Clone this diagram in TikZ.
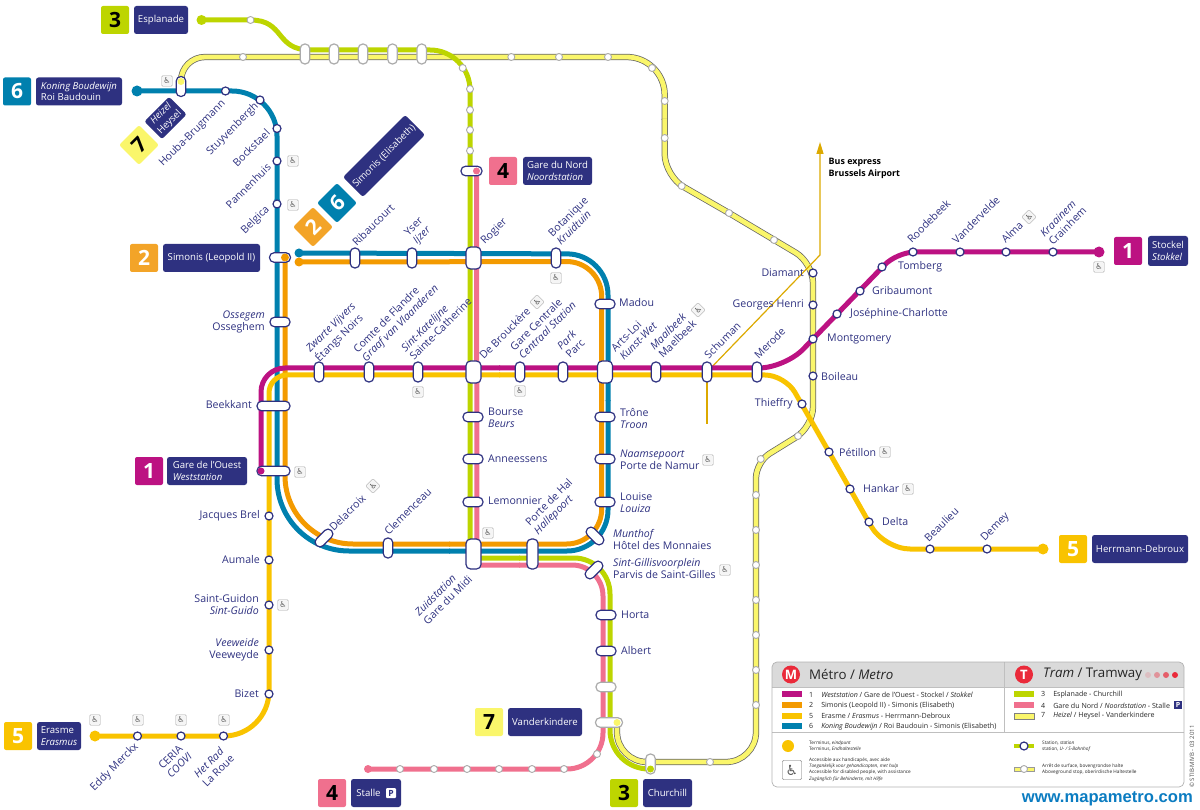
\documentclass[tikz,border=0pt]{standalone}
\usepackage{fontspec}
\setmainfont{Open Sans}
\newfontfamily\wcfont{DejaVu Sans}
\newfontfamily\urlfont{Liberation Sans}
\usetikzlibrary{arrows.meta,backgrounds}

\definecolor{navy}{HTML}{2E3180}
\definecolor{lineA}{HTML}{BC1282}
\definecolor{lineB}{HTML}{F39A00}
\definecolor{lineE}{HTML}{F9C300}
\definecolor{lineF}{HTML}{0080AE}
\definecolor{lineC}{HTML}{BDD500}
\definecolor{lineD}{HTML}{F0708E}
\definecolor{lineG}{HTML}{FAF66B}
\definecolor{boxB}{HTML}{F3A428}
\definecolor{capgray}{HTML}{ABABAB}
\definecolor{busline}{HTML}{DCA900}
\definecolor{headgray}{HTML}{DADADA}
\definecolor{redmark}{HTML}{EA2A3A}
\definecolor{urlblue}{HTML}{0B7CC1}

\begin{document}
\begin{tikzpicture}[
    x=1pt, y=-1pt,
    metro/.style={line width=5pt, draw=#1},
    tramline/.style={draw=black!60, double=lineG, double distance=4.8pt, line width=0.75pt},
    stop/.style={circle, draw=navy, fill=white, line width=1.2pt, minimum size=8pt, inner sep=0pt},
    tstop/.style={circle, draw=capgray, fill=white, line width=0.9pt, minimum size=7pt, inner sep=0pt},
    term/.style={circle, fill=#1, minimum size=11pt, inner sep=0pt},
    dot/.style={circle, fill=#1, minimum size=7pt, inner sep=0pt},
    capsule/.style={rectangle, rounded corners=4.5pt, draw=navy, fill=white, line width=1.2pt, inner sep=0pt},
    capv/.style={capsule, minimum width=9.5pt, minimum height=20pt},
    caph/.style={capsule, minimum width=20pt, minimum height=9.5pt},
    capbig/.style={capsule, minimum width=15pt, minimum height=22pt},
    graycap/.style={draw=capgray},
    lbl/.style={font=\fontsize{10.6}{12}\selectfont, text=navy, inner sep=0pt, align=left},
    lup/.style={lbl, rotate=45, anchor=west},
    ldown/.style={lbl, rotate=45, anchor=east, align=right},
    lleft/.style={lbl, anchor=east, align=right},
    lright/.style={lbl, anchor=west},
    num/.style={fill=#1, text=white, rounded corners=2pt, minimum size=28pt, inner sep=0pt, font=\fontsize{21}{21}\selectfont\bfseries},
    numk/.style={num=#1, text=black},
    namebox/.style={fill=navy, text=white, rounded corners=2.5pt, minimum height=28pt, inner sep=0pt, align=left, font=\fontsize{9.6}{11.8}\selectfont},
    wheel/.style={draw=black!35, fill=black!4, rounded corners=1pt, minimum size=10.5pt, inner sep=0pt, text=black!65, font=\wcfont\fontsize{8}{8}\selectfont},
    swatch/.style={rectangle, draw=none, fill=#1, minimum width=20pt, minimum height=5.5pt, inner sep=0pt},
    legrow/.style={anchor=west, inner sep=0pt, text=black!85, font=\fontsize{7.1}{8}\selectfont},
    legtiny/.style={anchor=west, inner sep=0pt, align=left, text=black!85, font=\fontsize{4.7}{6.2}\selectfont},
    leghead/.style={anchor=west, inner sep=0pt, text=black!85, font=\fontsize{13.3}{14}\selectfont},
    headmark/.style={circle, fill=redmark, text=white, minimum size=18pt, inner sep=0pt, font=\fontsize{13}{13}\selectfont\bfseries},
    fadedot/.style={circle, fill=redmark, fill opacity=#1, minimum size=6pt, inner sep=0pt}
]
\useasboundingbox (0,0) rectangle (1200,810);

% Line 6 stations
\node[term=lineF] (Koning) at (137,91) {};
\node[stop] (Houba) at (225.5,91) {};
\node[stop] (Stuyven) at (260,100) {};
\node[stop] (Bockstael) at (277,128.5) {};
\node[stop] (Pannenhuis) at (277,161) {};
\node[stop] (Belgica) at (277,204) {};
\node[term=lineF, minimum size=9pt] (SimonisF) at (299,253) {};
\node[term=lineB, minimum size=9pt] (SimonisB) at (299,262) {};

% Line 2/6 north side
\node[capv] (Ribaucourt) at (355,258) {};
\node[capv] (Yser) at (412,258) {};
\node[capbig] (Rogier) at (473.5,258) {};
\node[capv] (Botanique) at (556,258) {};
\node[caph] (Madou) at (605,304) {};
\node[caph, minimum width=21pt] (SimonisC) at (280,257.5) {};

% Line 1/5 trunk
\node[caph] (Ossegem) at (280,322) {};
\node[capv] (Zwarte) at (319,372) {};
\node[capv] (Comte) at (369,372) {};
\node[capv] (Katelijne) at (418,372) {};
\node[capbig] (Brouckere) at (473.5,372) {};
\node[capv] (Centrale) at (520,372) {};
\node[capv] (Parc) at (563,372) {};
\node[capbig] (ArtsLoi) at (605,372) {};
\node[capv] (Maalbeek) at (656,372) {};
\node[capv] (Schuman) at (707,372) {};
\node[capv] (Merode) at (757,372) {};
\node[capsule, minimum width=33pt, minimum height=9.5pt] (Beekkant) at (273.5,406) {};
\node[capsule, minimum width=33pt, minimum height=9.5pt] (Ouest) at (273.5,471) {};
\node[dot=lineA] (OuestD) at (261,471) {};

% Line 1 east
\node[stop] (Montgomery) at (813,339) {};
\node[stop] (Josephine) at (837,314) {};
\node[stop] (Gribaumont) at (860,291) {};
\node[stop] (Tomberg) at (882,267) {};
\node[stop] (Roodebeek) at (913,252) {};
\node[stop] (Vandervelde) at (960,252) {};
\node[stop] (Alma) at (1006,252) {};
\node[stop] (Kraainem) at (1053,252) {};
\node[term=lineA] (Stockel) at (1099,252) {};
\node[stop] (Diamant) at (813,273) {};
\node[stop] (Georges) at (813,305) {};
\node[stop] (Boileau) at (813,376) {};

% Line 5 east
\node[stop] (Thieffry) at (802,404) {};
\node[stop] (Petillon) at (829,452) {};
\node[stop] (Hankar) at (850,489) {};
\node[stop] (Delta) at (869,522) {};
\node[stop] (Beaulieu) at (930,549) {};
\node[stop] (Demey) at (987,549) {};
\node[term=lineE] (Herrmann) at (1043,549) {};

% Line 5 south
\node[stop] (Brel) at (269,516) {};
\node[stop] (Aumale) at (269,560) {};
\node[stop] (Guidon) at (269,605) {};
\node[stop] (Veeweide) at (269,650) {};
\node[stop] (Bizet) at (269,694) {};
\node[stop] (HetRad) at (223.5,736) {};
\node[stop] (Ceria) at (181,736) {};
\node[stop] (Merckx) at (137.5,736) {};
\node[term=lineE] (Erasme) at (95,736) {};

% Line 2/6 south side
\node[capsule, rotate=45, minimum width=21pt, minimum height=9.5pt] (Delacroix) at (324,538) {};
\node[capv] (Clemenceau) at (388,548) {};
\node[capsule, minimum width=15pt, minimum height=30pt] (Midi) at (473.5,554) {};
\node[capsule, minimum width=11pt, minimum height=30pt] (Hal) at (532.5,554) {};
\node[capsule, rotate=-45, minimum width=21pt, minimum height=9.5pt] (Munthof) at (595,536) {};
\node[capsule, rotate=45, minimum width=21pt, minimum height=9.5pt] (Gilles) at (594,570) {};

% Line 3/4 axis
\node[caph] (Bourse) at (473,417) {};
\node[caph] (Anneessens) at (473,459) {};
\node[caph] (Lemonnier) at (473,502) {};
\node[caph] (Trone) at (605,417) {};
\node[caph] (Naamse) at (605,459) {};
\node[caph] (Louise) at (605,502) {};
\node[caph] (Horta) at (606,615) {};
\node[caph] (Albert) at (606,651) {};
\node[caph, graycap] (AlbertS) at (606,687) {};

% Line 3 stops
\node[term=lineC, minimum size=10pt] (Esplanade) at (201.5,20) {};
\node[tstop] (Esp2) at (250.5,20) {};
\node[tstop] (Nord1) at (462.7,68) {};
\node[tstop] (Nord2) at (470,89) {};
\node[tstop] (Nord3) at (470,110) {};
\node[tstop] (Nord4) at (470,130) {};
\node[tstop] (Nord5) at (470,150.7) {};
\node[caph, minimum width=21pt] (Nord) at (471.5,171) {};
\node[dot=lineD] (NordD) at (476.5,171) {};

% Line 4 stops
\node[term=lineD, minimum size=8pt] (Stalle) at (368,769) {};
\node[tstop] (St1) at (400,769) {};
\node[tstop] (St2) at (434,769) {};
\node[tstop] (St3) at (467,769) {};
\node[tstop] (St4) at (499,769) {};
\node[tstop] (St5) at (532,769) {};
\node[tstop] (St6) at (564,769) {};
\node[tstop] (St7) at (597,754) {};

% Line 7 stops
\node[capv] (Heizel) at (181,86.5) {};
\node[dot=lineG] (HeizelD) at (181,81.5) {};
\node[tstop] (H1) at (243,57) {};
\node[capv, graycap] (T1) at (305,54) {};
\node[capv, graycap] (T2) at (334,54) {};
\node[capv, graycap] (T3) at (363,54) {};
\node[capv, graycap] (T4) at (392.5,54) {};
\node[capv, graycap] (T5) at (421.7,54) {};
\node[tstop] (H2) at (511.3,57) {};
\node[tstop] (H3) at (559,57) {};
\node[tstop] (H4) at (608,57) {};
\node[tstop] (H5) at (652,68) {};
\node[tstop] (H6) at (664.7,101) {};
\node[tstop] (H7) at (664.7,138) {};
\node[tstop] (H8) at (681.7,186) {};
\node[tstop] (H9) at (729,213) {};
\node[tstop] (H10) at (774,240) {};
\node[tstop] (S1) at (798,436) {};
\node[tstop] (S2) at (760.7,459) {};
\node[tstop] (S3) at (756,495) {};
\node[tstop] (S4) at (756,530) {};
\node[tstop] (S5) at (756,565) {};
\node[tstop] (S6) at (756,600) {};
\node[tstop] (S7) at (756,635) {};
\node[tstop] (S8) at (756,670) {};
\node[tstop] (S9) at (756,705) {};
\node[tstop] (S10) at (710,762) {};
\node[capv, graycap] (Churchill) at (650.5,764) {};
\node[dot=lineC] (ChurchillD) at (650.5,769) {};
\node[capsule, graycap, minimum width=27pt, minimum height=9.5pt] (Vander) at (609,722.5) {};
\node[dot=lineG] (VanderD) at (617,722.5) {};
\node[dot=lineB, minimum size=8pt] (SimonisD) at (285,257.5) {};

% Lines
\begin{scope}[on background layer]
    % Line 7
    \draw[tramline, rounded corners=24pt] (Heizel.center) -- (181,57) -- (300,57);
    \draw[tramline, rounded corners=38pt] (299,57) -- (664.7,57) -- (664.7,120);
    \draw[tramline, rounded corners=22pt] (664.7,119) -- (664.7,176) -- (H9.center);
    \draw[tramline, rounded corners=20pt] (H9.center) -- (813,263) -- (813,340);
    \draw[tramline, rounded corners=20pt] (813,339) -- (813,427) -- (S1.center);
    \draw[tramline, rounded corners=16pt] (S1.center) -- (756,462) -- (S4.center);
    \draw[tramline, rounded corners=30pt] (S4.center) -- (756,762) -- (S10.center);
    \draw[tramline, rounded corners=30pt] (S10.center) -- (617,762) -- (VanderD.center);
    % Bus
    \draw[busline, line width=1.2pt, -{Triangle[length=12pt,width=7pt]}] (Schuman.center) -- (820,255) -- (820,142);
    \draw[busline, line width=1.2pt] (Schuman.center) -- (707,424);
    % Line 3
    \draw[metro=lineC] (Esplanade.center) -- (Esp2.center) .. controls (285,20) and (275,50) .. (310,50);
    \draw[metro=lineC, rounded corners=40pt] (309,50) -- (470,50) -- (470,150);
    \draw[metro=lineC, rounded corners=3pt] (470,149) -- (470,558) -- (520,558);
    \draw[metro=lineC, rounded corners=36pt] (519,558) -- (610,558) -- (610,650);
    \draw[metro=lineC, rounded corners=40pt] (610,649) -- (610,770) -- (ChurchillD.center);
    % Line 4
    \draw[metro=lineD, rounded corners=3pt] (NordD.center) -- (477,565) -- (520,565);
    \draw[metro=lineD, rounded corners=31pt] (519,565) -- (603,565) -- (603,650);
    \draw[metro=lineD, rounded corners=36pt] (603,649) -- (603,769) -- (Stalle.center);
    % Line 6
    \draw[metro=lineF, rounded corners=45pt] (Koning.center) -- (277,91) -- (277,200);
    \draw[metro=lineF, rounded corners=72pt] (277,199) -- (277,551) -- (450,551);
    \draw[metro=lineF, rounded corners=41pt] (449,551) -- (608,551) -- (608,400);
    \draw[metro=lineF, rounded corners=41pt] (608,401) -- (608,254) -- (SimonisF.center);
    % Line 2
    \draw[metro=lineB, rounded corners=68pt] (SimonisD.center) -- (285,544) -- (450,544);
    \draw[metro=lineB, rounded corners=35pt] (449,544) -- (601.7,544) -- (601.7,400);
    \draw[metro=lineB, rounded corners=35pt] (601.7,401) -- (601.7,261.5) -- (SimonisB.center);
    % Line 5
    \draw[metro=lineE, rounded corners=45pt] (Erasme.center) -- (269,736) -- (269,600);
    \draw[metro=lineE, rounded corners=18pt] (269,601) -- (269,375) -- (500,375);
    \draw[metro=lineE, rounded corners=20pt] (499,375) -- (785,375) -- (Petillon.center);
    \draw[metro=lineE, rounded corners=26pt] (Petillon.center) -- (884,549) -- (Herrmann.center);
    % Line 1
    \draw[metro=lineA, rounded corners=24pt] (OuestD.center) -- (261,368) -- (500,368);
    \draw[metro=lineA, rounded corners=26pt] (499,368) -- (785,368) -- (Montgomery.center);
    \draw[metro=lineA, rounded corners=18pt] (Montgomery.center) -- (897,252) -- (Stockel.center);
\end{scope}

% Terminus boxes
\node[numk=lineC] (N3a) at (115,20) {3};
\node[namebox, minimum width=54pt] (B3a) at (161,20) {Esplanade};
\node[num=lineF] (N6a) at (17,91.5) {6};
\node[namebox, minimum width=86pt] (B6a) at (79,91.5) {\textit{Koning Boudewijn}\\Roi Baudouin};
\node[numk=lineG, rotate=45] (N7a) at (139,145) {7};
\node[namebox, rotate=45, minimum width=35pt, minimum height=25pt, align=center] (B7a) at (165.5,118) {\textit{Heizel}\\Heysel};
\node[num=boxB, rotate=45] (N2a) at (313,227) {2};
\node[num=lineF, rotate=45] (N6b) at (337,203) {6};
\node[namebox, rotate=45, minimum width=88pt] (B6b) at (384,156) {Simonis (Elisabeth)};
\node[num=boxB] (N2b) at (144,258) {2};
\node[namebox, minimum width=97pt] (B2b) at (211.5,258) {Simonis (Leopold II)};
\node[numk=lineD] (N4a) at (503,171) {4};
\node[namebox, minimum width=69pt] (B4a) at (557.5,171) {Gare du Nord\\\textit{Noordstation}};
\node[num=lineA] (N1a) at (149,471) {1};
\node[namebox, minimum width=80pt] (B1a) at (207,471) {Gare de l'Ouest\\\textit{Weststation}};
\node[num=lineA] (N1b) at (1128,251) {1};
\node[namebox, minimum width=40pt, minimum height=30pt] (B1b) at (1168,251) {Stockel\\\textit{Stokkel}};
\node[num=lineE] (N5a) at (1073,549) {5};
\node[namebox, minimum width=96pt] (B5a) at (1140,549) {Herrmann-Debroux};
\node[num=lineE] (N5b) at (18,736) {5};
\node[namebox, minimum width=44pt] (B5b) at (59,736) {Erasme\\\textit{Erasmus}};
\node[numk=lineG] (N7b) at (489,722) {7};
\node[namebox, minimum width=74pt] (B7b) at (545,722) {Vanderkindere};
\node[numk=lineD] (N4b) at (332,793) {4};
\node[namebox, minimum width=50pt] (B4b) at (376,793) {Stalle\hspace{15pt}};
\node[fill=white, text=navy, rounded corners=1pt, minimum size=10pt, inner sep=0pt, font=\fontsize{8.5}{8.5}\selectfont\bfseries] (B4bP) at (391,793) {P};
\node[numk=lineC] (N3b) at (624,793) {3};
\node[namebox, minimum width=49pt] (B3b) at (667.5,793) {Churchill};

% Bus text
\node[anchor=west, inner sep=0pt, align=left, font=\fontsize{8.9}{12}\selectfont\bfseries, text=black] (BusL) at (828.5,168) {Bus express\\Brussels Airport};

% Labels, west
\node[ldown] (HoubaL) at (224,102) {Houba-Brugmann};
\node[ldown] (StuyvenL) at (257,105) {Stuyvenbergh};
\node[ldown] (BockstaelL) at (268,131) {Bockstael};
\node[ldown] (PannenhuisL) at (269,165) {Pannenhuis};
\node[ldown] (BelgicaL) at (268,208) {Belgica};
\node[lleft] (OssegemL) at (265,322) {\textit{Ossegem}\\Osseghem};
\node[lleft] (BeekkantL) at (252,405) {Beekkant};
\node[lleft] (BrelL) at (260,516) {Jacques Brel};
\node[lleft] (AumaleL) at (260,560) {Aumale};
\node[lleft] (GuidonL) at (259,605) {Saint-Guidon\\\textit{Sint-Guido}};
\node[lleft] (VeeweideL) at (259,650) {\textit{Veeweide}\\Veeweyde};
\node[lleft] (BizetL) at (259,694) {Bizet};
\node[ldown] (MerckxL) at (137,745) {Eddy Merckx};
\node[ldown, align=left] (CeriaL) at (186,750) {CERIA\\\textit{COOVI}};
\node[ldown, align=left] (HetRadL) at (228,752) {\textit{Het Rad}\\La Roue};

% Labels, north side
\node[lup] (RibaucourtL) at (354,244) {Ribaucourt};
\node[lup] (YserL) at (411,239) {Yser\\\textit{Ijzer}};
\node[lup] (RogierL) at (483,243) {Rogier};
\node[lup] (BotaniqueL) at (554,239) {Botanique\\\textit{Kruidtuin}};

% Labels, trunk
\node[lup] (ZwarteL) at (313,356) {\textit{Zwarte Vijvers}\\Étangs Noirs};
\node[lup] (ComteL) at (360,356) {Comte de Flandre\\\textit{Graaf van Vlaanderen}};
\node[lup] (KatelijneL) at (407,354) {\textit{Sint-Katelijne}\\Sainte-Catherine};
\node[lup] (BrouckereL) at (481,357) {De Brouckère};
\node[lup] (CentraleL) at (516,353) {Gare Centrale\\\textit{Centraal Station}};
\node[lup] (ParcL) at (563,352) {\textit{Park}\\Parc};
\node[lup] (ArtsLoiL) at (617,354) {Arts-Loi\\\textit{Kunst-Wet}};
\node[lup] (MaalbeekL) at (656,352) {\textit{Maalbeek}\\Maelbeek};
\node[lup] (SchumanL) at (706,357) {Schuman};
\node[lup] (MerodeL) at (756,357) {Merode};

% Labels, east
\node[lleft] (DiamantL) at (804,272.5) {Diamant};
\node[lleft] (GeorgesL) at (804,304.5) {Georges Henri};
\node[lright] (MontgomeryL) at (827,339) {Montgomery};
\node[lright] (JosephineL) at (850,314) {Joséphine-Charlotte};
\node[lright] (GribaumontL) at (872,291) {Gribaumont};
\node[lright] (TombergL) at (898,267) {Tomberg};
\node[lright] (BoileauL) at (821,377) {Boileau};
\node[lleft] (ThieffryL) at (793,404) {Thieffry};
\node[lright] (PetillonL) at (839,452) {Pétillon};
\node[lright] (HankarL) at (863,489) {Hankar};
\node[lright] (DeltaL) at (882,522) {Delta};
\node[lup] (RoodebeekL) at (909,241) {Roodebeek};
\node[lup] (VanderveldeL) at (954,242) {Vandervelde};
\node[lup] (AlmaL) at (1003,241) {Alma};
\node[lup] (KraainemL) at (1046,239) {\textit{Kraainem}\\Crainhem};
\node[lup] (BeaulieuL) at (926,540) {Beaulieu};
\node[lup] (DemeyL) at (983,540) {Demey};

% Labels, south
\node[lup] (DelacroixL) at (331,529) {Delacroix};
\node[lup] (ClemenceauL) at (386,533) {Clemenceau};
\node[ldown, align=left] (MidiL) at (466,573) {\textit{Zuidstation}\\Gare du Midi};
\node[lup] (HalL) at (532,529) {Porte de Hal\\\textit{Hallepoort}};
\node[lright] (BourseL) at (488,418) {Bourse\\\textit{Beurs}};
\node[lright] (AnneessensL) at (488,459) {Anneessens};
\node[lright] (LemonnierL) at (488,501) {Lemonnier};
\node[lright] (TroneL) at (620,418) {Trône\\\textit{Troon}};
\node[lright] (NaamseL) at (620,460) {\textit{Naamsepoort}\\Porte de Namur};
\node[lright] (LouiseL) at (620,503) {Louise\\\textit{Louiza}};
\node[lright] (MunthofL) at (613,539) {\textit{Munthof}\\Hôtel des Monnaies};
\node[lright] (GillesL) at (613,569) {\textit{Sint-Gillisvoorplein}\\Parvis de Saint-Gilles};
\node[lright] (HortaL) at (621,615) {Horta};
\node[lright] (AlbertL) at (621,651) {Albert};
\node[lright] (MadouL) at (619,303) {Madou};

% Accessibility marks
\node[wheel] (HeizelW) at (167,81) {♿};
\node[wheel] (PannenhuisW) at (293,161) {♿};
\node[wheel] (BelgicaW) at (293,205) {♿};
\node[wheel] (BotaniqueW) at (556,278) {♿};
\node[wheel] (KatelijneW) at (418,392) {♿};
\node[wheel] (CentraleW) at (520,391) {♿};
\node[wheel, rotate=45] (BrouckereW) at (537,302) {♿};
\node[wheel, rotate=45] (MaalbeekW) at (698,310) {♿};
\node[wheel, rotate=45] (AlmaW) at (1029,217) {♿};
\node[wheel] (StockelW) at (1099,267) {♿};
\node[wheel] (OuestW) at (300,472) {♿};
\node[wheel, rotate=45] (DelacroixW) at (373,486) {♿};
\node[wheel] (MidiW) at (488,533) {♿};
\node[wheel] (NaamseW) at (708,460) {♿};
\node[wheel] (GillesW) at (725,570) {♿};
\node[wheel] (PetillonW) at (885,452) {♿};
\node[wheel] (HankarW) at (908,489) {♿};
\node[wheel] (GuidonW) at (283,605) {♿};
\node[wheel] (ErasmeW) at (95,720) {♿};
\node[wheel] (MerckxW) at (138,720) {♿};
\node[wheel] (CeriaW) at (181,720) {♿};
\node[wheel] (HetRadW) at (224,720) {♿};

% Legend
\fill[headgray, rounded corners=5pt] (772,662) rectangle (1184,687);
\fill[headgray] (772,675) rectangle (1184,687);
\draw[black!25, line width=0.6pt] (1004,662) -- (1004,732);
\draw[black!25, line width=0.6pt] (772,732) -- (1184,732);
\draw[black!25, line width=0.6pt] (772,687) -- (1184,687);
\draw[black!30, line width=0.7pt, rounded corners=5pt] (772,662) rectangle (1184,787);

\node[headmark] (MarkM) at (791,674.5) {M};
\node[leghead] (HeadM) at (809,674.5) {Métro / \textit{Metro}};
\node[headmark] (MarkT) at (1024,674.5) {T};
\node[leghead] (HeadT) at (1043,674.5) {\textit{Tram} / Tramway};
\node[fadedot=0.15] (Fade1) at (1148,675) {};
\node[fadedot=0.4] (Fade2) at (1157,675) {};
\node[fadedot=0.7] (Fade3) at (1166,675) {};
\node[fadedot=1] (Fade4) at (1175,675) {};

\node[swatch=lineA] (Sw1) at (792,694) {};
\node[swatch=lineB] (Sw2) at (792,705) {};
\node[swatch=lineE] (Sw5) at (792,716) {};
\node[swatch=lineF] (Sw6) at (792,726) {};
\node[legrow] (Row1) at (809,694.5) {1\hspace{8pt}\textit{Weststation} / Gare de l'Ouest - Stockel / \textit{Stokkel}};
\node[legrow] (Row2) at (809,705.5) {2\hspace{8pt}Simonis (Leopold II) - Simonis (Elisabeth)};
\node[legrow] (Row5) at (809,716) {5\hspace{8pt}Erasme / \textit{Erasmus} - Herrmann-Debroux};
\node[legrow] (Row6) at (809,726.5) {6\hspace{8pt}\textit{Koning Boudewijn} / Roi Baudouin - Simonis (Elisabeth)};

\node[swatch=lineC] (Sw3) at (1024,694) {};
\node[swatch=lineD] (Sw4) at (1024,705) {};
\node[swatch=lineG, draw=black!50, line width=0.4pt] (Sw7) at (1024,716) {};
\node[legrow] (Row3) at (1041,694.5) {3\hspace{8pt}Esplanade - Churchill};
\node[legrow] (Row4) at (1041,705.5) {4\hspace{8pt}Gare du Nord / \textit{Noordstation} - Stalle};
\node[legrow] (Row7) at (1041,716) {7\hspace{8pt}\textit{Heizel} / Heysel - Vanderkindere};
\node[fill=navy, text=white, minimum size=8.5pt, inner sep=0pt, font=\fontsize{7}{7}\selectfont\bfseries] (ParkBadge) at (1178,705) {P};

\node[term=lineE, minimum size=12pt] (LegTerm) at (788,746) {};
\node[legtiny] (LegTermT) at (809,746) {Terminus, \textit{eindpunt}\\Terminus, \textit{Endhaltestelle}};
\node[wheel, minimum size=19pt, font=\wcfont\fontsize{14}{14}\selectfont, draw=black!60, fill=white] (LegW) at (792,770) {♿};
\node[legtiny] (LegWT) at (809,769.5) {Accessible aux handicapés, avec aide\\\textit{Toegankelijk voor gehandicapten, met hulp}\\Accessible for disabled people, with assistance\\\textit{Zugänglich für Behinderte, mit Hilfe}};

\node[swatch=lineC, minimum height=4pt] (LegLine) at (1024,746) {};
\node[stop] (LegStop) at (1024,746) {};
\node[legtiny] (LegStopT) at (1042,746) {Station, \textit{station}\\station, \textit{U- / S-Bahnhof}};
\node[swatch=lineG, minimum height=4.5pt, draw=black!40, line width=0.3pt] (LegLine2) at (1024,769) {};
\node[tstop] (LegStop2) at (1024,769) {};
\node[legtiny] (LegStop2T) at (1042,769) {Arrêt de surface, bovengrondse halte\\Aboveground stop, oberirdische Haltestelle};

% Small print
\node[rotate=90, anchor=west, inner sep=0pt, text=black!70, font=\fontsize{6}{6}\selectfont] (Copy) at (1192,788) {© STIB-MIVB - 03 2011};
\node[anchor=east, inner sep=0pt, text=urlblue, font=\urlfont\fontsize{16.6}{17}\selectfont\bfseries] (Url) at (1193,799) {www.mapametro.com};

\end{tikzpicture}
\end{document}
